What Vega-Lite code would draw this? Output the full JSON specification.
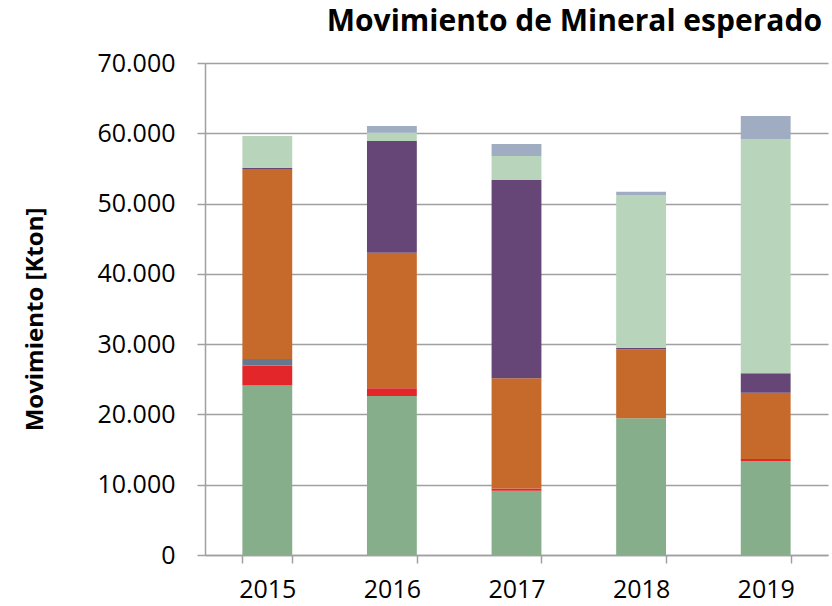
{
  "$schema": "https://vega.github.io/schema/vega-lite/v6.json",
  "autosize": "none",
  "width": 623,
  "height": 492,
  "padding": {"left": 205, "top": 63, "right": 4, "bottom": 51},
  "background": "white",
  "title": {
    "text": "Movimiento de Mineral esperado",
    "anchor": "end",
    "font": "Open Sans",
    "fontSize": 30,
    "fontWeight": "bold",
    "color": "#000000",
    "offset": 14,
    "dx": -6
  },
  "data": {
    "values": [
      {"anio": "2015", "serie": "Serie 1", "orden": 1, "valor": 24100},
      {"anio": "2015", "serie": "Serie 2", "orden": 2, "valor": 2850},
      {"anio": "2015", "serie": "Serie 3", "orden": 3, "valor": 950},
      {"anio": "2015", "serie": "Serie 4", "orden": 4, "valor": 27030},
      {"anio": "2015", "serie": "Serie 5", "orden": 5, "valor": 150},
      {"anio": "2015", "serie": "Serie 6", "orden": 6, "valor": 4550},
      {"anio": "2015", "serie": "Serie 7", "orden": 7, "valor": 0},
      {"anio": "2016", "serie": "Serie 1", "orden": 1, "valor": 22620},
      {"anio": "2016", "serie": "Serie 2", "orden": 2, "valor": 1100},
      {"anio": "2016", "serie": "Serie 3", "orden": 3, "valor": 0},
      {"anio": "2016", "serie": "Serie 4", "orden": 4, "valor": 19300},
      {"anio": "2016", "serie": "Serie 5", "orden": 5, "valor": 15890},
      {"anio": "2016", "serie": "Serie 6", "orden": 6, "valor": 1180},
      {"anio": "2016", "serie": "Serie 7", "orden": 7, "valor": 950},
      {"anio": "2017", "serie": "Serie 1", "orden": 1, "valor": 9150},
      {"anio": "2017", "serie": "Serie 2", "orden": 2, "valor": 300},
      {"anio": "2017", "serie": "Serie 3", "orden": 3, "valor": 0},
      {"anio": "2017", "serie": "Serie 4", "orden": 4, "valor": 15690},
      {"anio": "2017", "serie": "Serie 5", "orden": 5, "valor": 28210},
      {"anio": "2017", "serie": "Serie 6", "orden": 6, "valor": 3410},
      {"anio": "2017", "serie": "Serie 7", "orden": 7, "valor": 1710},
      {"anio": "2018", "serie": "Serie 1", "orden": 1, "valor": 19450},
      {"anio": "2018", "serie": "Serie 2", "orden": 2, "valor": 0},
      {"anio": "2018", "serie": "Serie 3", "orden": 3, "valor": 0},
      {"anio": "2018", "serie": "Serie 4", "orden": 4, "valor": 9815},
      {"anio": "2018", "serie": "Serie 5", "orden": 5, "valor": 225},
      {"anio": "2018", "serie": "Serie 6", "orden": 6, "valor": 21730},
      {"anio": "2018", "serie": "Serie 7", "orden": 7, "valor": 470},
      {"anio": "2019", "serie": "Serie 1", "orden": 1, "valor": 13370},
      {"anio": "2019", "serie": "Serie 2", "orden": 2, "valor": 290},
      {"anio": "2019", "serie": "Serie 3", "orden": 3, "valor": 0},
      {"anio": "2019", "serie": "Serie 4", "orden": 4, "valor": 9430},
      {"anio": "2019", "serie": "Serie 5", "orden": 5, "valor": 2760},
      {"anio": "2019", "serie": "Serie 6", "orden": 6, "valor": 33290},
      {"anio": "2019", "serie": "Serie 7", "orden": 7, "valor": 3320}
    ]
  },
  "mark": {"type": "bar"},
  "encoding": {
    "x": {
      "field": "anio",
      "type": "nominal",
      "scale": {"paddingInner": 0.6, "paddingOuter": 0.3},
      "axis": {
        "title": null,
        "labelAngle": 0,
        "labelFont": "Open Sans",
        "labelFontSize": 25,
        "labelColor": "#000000",
        "labelPadding": 14,
        "tickBand": "extent",
        "tickSize": 8,
        "tickColor": "#A0A0A0",
        "tickWidth": 1.5,
        "domainColor": "#A0A0A0",
        "domainWidth": 1.5,
        "grid": false
      }
    },
    "y": {
      "field": "valor",
      "type": "quantitative",
      "stack": "zero",
      "scale": {"domain": [0, 70000], "nice": false},
      "axis": {
        "title": "Movimiento [Kton]",
        "titleFont": "Open Sans",
        "titleFontSize": 24,
        "titleFontWeight": "bold",
        "titleColor": "#000000",
        "titleX": -170,
        "titleY": 256,
        "titleAlign": "center",
        "titleBaseline": "middle",
        "titleAngle": -90,
        "values": [0, 10000, 20000, 30000, 40000, 50000, 60000, 70000],
        "labelExpr": "replace(format(datum.value, ','), ',', '.')",
        "labelFont": "Open Sans",
        "labelFontSize": 25,
        "labelColor": "#000000",
        "labelPadding": 22,
        "tickSize": 8,
        "tickColor": "#A0A0A0",
        "tickWidth": 1.5,
        "domainColor": "#A0A0A0",
        "domainWidth": 1.5,
        "grid": true,
        "gridColor": "#A0A0A0",
        "gridWidth": 1.5
      }
    },
    "color": {
      "field": "serie",
      "type": "nominal",
      "scale": {
        "domain": ["Serie 1", "Serie 2", "Serie 3", "Serie 4", "Serie 5", "Serie 6", "Serie 7"],
        "range": ["#86AE8A", "#E3262A", "#66788F", "#C66A2C", "#664676", "#B8D4BA", "#9FACC2"]
      },
      "legend": null
    },
    "order": {"field": "orden", "type": "quantitative"}
  },
  "config": {
    "view": {"stroke": null}
  }
}
